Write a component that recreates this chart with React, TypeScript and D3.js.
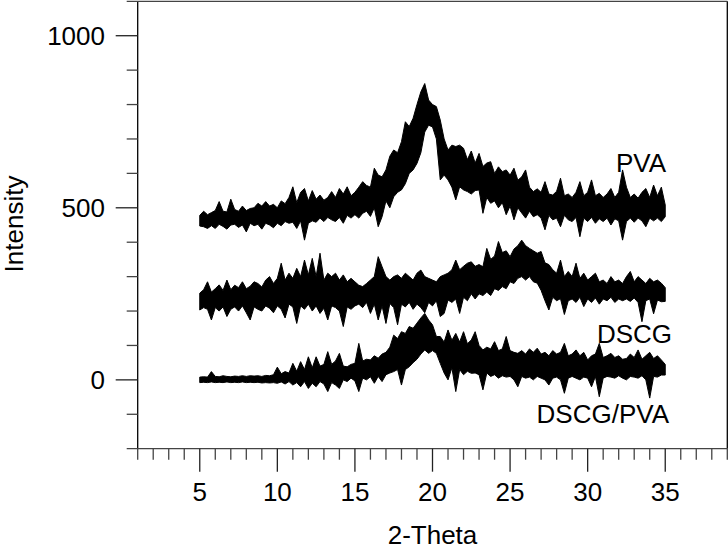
import React from 'react';
import * as d3 from 'd3';

// 2-Theta sampling grid (5 to 35, step 0.25)
const twoTheta: number[] = d3.range(0, 121).map((i) => 5 + i * 0.25);

// Upper / lower edges of each noisy trace
const pvaTop = [
  478, 490, 480, 486, 492, 518, 490, 488,
  525, 495, 490, 505, 492, 498, 500, 513,
  505, 518, 505, 510, 500, 520, 512, 530,
  561, 515, 545, 556, 520, 550, 525, 537,
  522, 530, 547, 530, 556, 540, 561, 535,
  545, 560, 576, 565, 560, 615, 595, 590,
  610, 650, 668, 660, 692, 750, 736, 760,
  800, 837, 861, 813, 800, 794, 755, 700,
  668, 682, 678, 682, 673, 640, 665, 630,
  658, 620, 630, 634, 600, 619, 605, 610,
  595, 615, 580, 590, 610, 560, 547, 555,
  545, 576, 540, 537, 548, 586, 535, 540,
  530, 545, 576, 535, 545, 581, 535, 542,
  530, 540, 556, 530, 545, 610, 560, 530,
  540, 528, 545, 556, 530, 566, 535, 560,
  508,
];
const pvaBottom = [
  447, 445, 440, 448, 440, 452, 446, 438,
  450, 452, 443, 450, 430, 455, 448, 452,
  438, 455, 450, 442, 455, 448, 460, 455,
  458, 440, 462, 406, 455, 462, 458, 470,
  460, 472, 465, 460, 472, 455, 478, 470,
  480, 470, 484, 490, 475, 500, 445, 474,
  520, 500, 532, 545, 552, 570, 600, 610,
  629, 660, 720, 740, 735, 700, 581, 595,
  581, 560, 523, 561, 552, 547, 540, 550,
  552, 484, 530, 513, 520, 500, 515, 480,
  505, 465, 500, 485, 470, 490, 474, 480,
  470, 436, 478, 465, 470, 445, 478, 465,
  460, 472, 416, 470, 460, 472, 455, 468,
  460, 470, 450, 468, 462, 406, 460, 470,
  458, 470, 462, 445, 470, 462, 470, 460,
  474,
];
const dscgTop = [
  252, 262, 285, 255, 265, 276, 260, 290,
  262, 275, 268, 285, 265, 272, 285, 280,
  270, 290, 300, 280, 295, 339, 290, 310,
  295, 324, 300, 348, 305, 353, 300, 368,
  290, 310, 300, 310, 290, 305, 285, 295,
  285, 275, 271, 280, 290, 300, 358, 329,
  300, 290, 300, 305, 295, 310, 300, 290,
  310, 319, 300, 295, 290, 285, 300, 305,
  310, 320, 348, 320, 330, 339, 343, 330,
  335, 329, 382, 350, 360, 402, 370, 375,
  358, 380, 390, 406, 390, 382, 375, 368,
  373, 340, 335, 320, 310, 348, 300, 315,
  300, 339, 295, 310, 290, 300, 310, 285,
  290, 280, 300, 285, 290, 280, 300, 315,
  285, 300, 290, 280, 295, 285, 290, 281,
  268,
];
const dscgBottom = [
  203, 210, 205, 174, 210, 200, 212, 184,
  205, 212, 200, 215, 195, 174, 212, 205,
  200, 215, 208, 195, 215, 205, 180, 220,
  212, 164, 215, 205, 220, 200, 215, 193,
  208, 174, 215, 210, 200, 155, 212, 205,
  215, 220, 210, 225, 193, 220, 174, 215,
  164, 222, 210, 160, 220, 212, 225, 205,
  220, 210, 195, 225, 215, 230, 184, 193,
  232, 225, 235, 193, 240, 230, 250, 235,
  250, 245, 255, 245, 265, 260, 271, 265,
  285, 280, 295, 300, 290, 300, 285, 281,
  260, 230, 203, 240, 230, 236, 190, 230,
  235, 225, 240, 213, 235, 225, 238, 220,
  235, 230, 240, 225, 235, 230, 235, 228,
  238, 225, 169, 230, 235, 192, 232, 227,
  228,
];
const mixTop = [
  8, 9, 8, 24, 10, 9, 12, 10,
  9, 11, 10, 12, 10, 12, 11, 12,
  10, 13, 12, 15, 37, 18, 24, 20,
  48, 25, 53, 30, 67, 35, 67, 40,
  45, 82, 45, 55, 77, 40, 38, 45,
  48, 106, 55, 60, 58, 70, 63, 75,
  80, 95, 130, 120, 140, 135, 155, 150,
  165, 180, 193, 174, 160, 126, 126, 110,
  145, 115, 135, 110, 140, 105, 116, 140,
  100, 87, 95, 90, 111, 85, 90, 126,
  85, 80, 77, 85, 75, 90, 80, 92,
  75, 80, 70, 85, 75, 80, 106, 70,
  75, 87, 70, 80, 58, 70, 75, 106,
  65, 70, 77, 65, 70, 60, 62, 75,
  65, 87, 60, 70, 80, 62, 70, 58,
  45,
];
const mixBottom = [
  -8, -7, -8, -6, -8, -7, -8, -6,
  -8, -7, -8, -6, -8, -7, -8, -7,
  -9, -8, -9, -8, -10, -6, -12, -5,
  -15, -8, -20, -5, -25, -10, -20, -5,
  -12, -34, -8, -15, -25, 0, -5, 5,
  -3, -34, 5, 0, 9, -10, 10, -5,
  15, 20, 24, 30, -15, 30, 38, 50,
  60, 75, 87, 77, 85, 77, 48, 20,
  0, 35, -34, 30, 15, 25, 19, 20,
  15, -29, 20, 10, 15, 5, 12, 8,
  10, 0, -20, 10, 5, 8, 0, 10,
  5, 0, -15, 5, 8, 0, -39, 5,
  10, 5, 0, 8, 5, -20, 10, -49,
  5, 10, 8, 5, 12, 5, 0, 10,
  8, 5, 12, 0, -53, 10, 8, 14,
  14,
];

const seriesNames = ['PVA', 'DSCG', 'DSCG/PVA'];
const xTickLabels = [5, 10, 15, 20, 25, 30, 35];
const yTickLabels = [0, 500, 1000];

const W = 728;
const H = 550;
const left = 137.7;
const right = 727.3;
const top = 1.3;
const bottom = 448.7;
const FONT = "'Liberation Sans', Arial, Helvetica, sans-serif";

export default function App() {
  const x = d3.scaleLinear().domain([1, 39]).range([left, right]);
  const y = d3.scaleLinear().domain([-200, 1100]).range([bottom, top]);

  const mk = (hi: number[], lo: number[]) =>
    d3
      .area<number>()
      .x((_, i) => x(twoTheta[i]))
      .y0((_, i) => y(lo[i]))
      .y1((_, i) => y(hi[i]))
      .curve(d3.curveLinear)(hi) || '';

  const traces = [
    mk(pvaTop, pvaBottom),
    mk(dscgTop, dscgBottom),
    mk(mixTop, mixBottom),
  ];

  const xTicks = d3.range(1, 40);
  const yTicks = d3.range(-200, 1101, 100);

  const labelPos = [
    { x: 666, y: 172 },
    { x: 672, y: 343 },
    { x: 669, y: 423 },
  ];

  return (
    <svg
      width={W}
      height={H}
      style={{ position: 'absolute', left: 0, top: 0, background: '#fff' }}
      fontFamily={FONT}
    >
      <rect x={0} y={0} width={W} height={H} fill="#fff" />
      {traces.map((d, i) => (
        <path key={i} d={d} fill="#000" stroke="#000" strokeWidth={1} strokeLinejoin="miter" />
      ))}
      {/* frame */}
      <line x1={left} x2={left} y1={top} y2={bottom} stroke="#000" strokeWidth={1.3} />
      <line x1={right} x2={right} y1={top} y2={bottom} stroke="#000" strokeWidth={1.3} />
      {/* y ticks */}
      {yTicks.map((t) => {
        const major = t % 500 === 0;
        return (
          <line
            key={'y' + t}
            x1={left - (major ? 22 : 11)}
            x2={right}
            y1={y(t)}
            y2={y(t)}
            stroke={major ? '#222' : '#444'}
            strokeWidth={1.3}
            strokeDasharray={t === -200 || t === 1100 ? undefined : `${major ? 22 : 11} 10000`}
          />
        );
      })}
      {/* x ticks */}
      {xTicks.map((t) => {
        const major = t % 5 === 0;
        return (
          <line
            key={'x' + t}
            x1={x(t)}
            x2={x(t)}
            y1={bottom}
            y2={bottom + (major ? 23 : 11)}
            stroke={major ? '#222' : '#444'}
            strokeWidth={1.3}
          />
        );
      })}
      {yTickLabels.map((t) => (
        <text key={'yl' + t} x={105} y={y(t) + 9.5} textAnchor="end" fontSize={26} fill="#000">
          {t}
        </text>
      ))}
      {xTickLabels.map((t) => (
        <text key={'xl' + t} x={x(t)} y={501} textAnchor="middle" fontSize={26} fill="#000">
          {t}
        </text>
      ))}
      <text x={x(20)} y={544} textAnchor="middle" fontSize={26} fill="#000">
        2-Theta
      </text>
      <text
        transform={`translate(23, 224) rotate(-90)`}
        textAnchor="middle"
        fontSize={26}
        fill="#000"
      >
        Intensity
      </text>
      {seriesNames.map((s, i) => (
        <text key={s} x={labelPos[i].x} y={labelPos[i].y} textAnchor="end" fontSize={26} fill="#000">
          {s}
        </text>
      ))}
    </svg>
  );
}
